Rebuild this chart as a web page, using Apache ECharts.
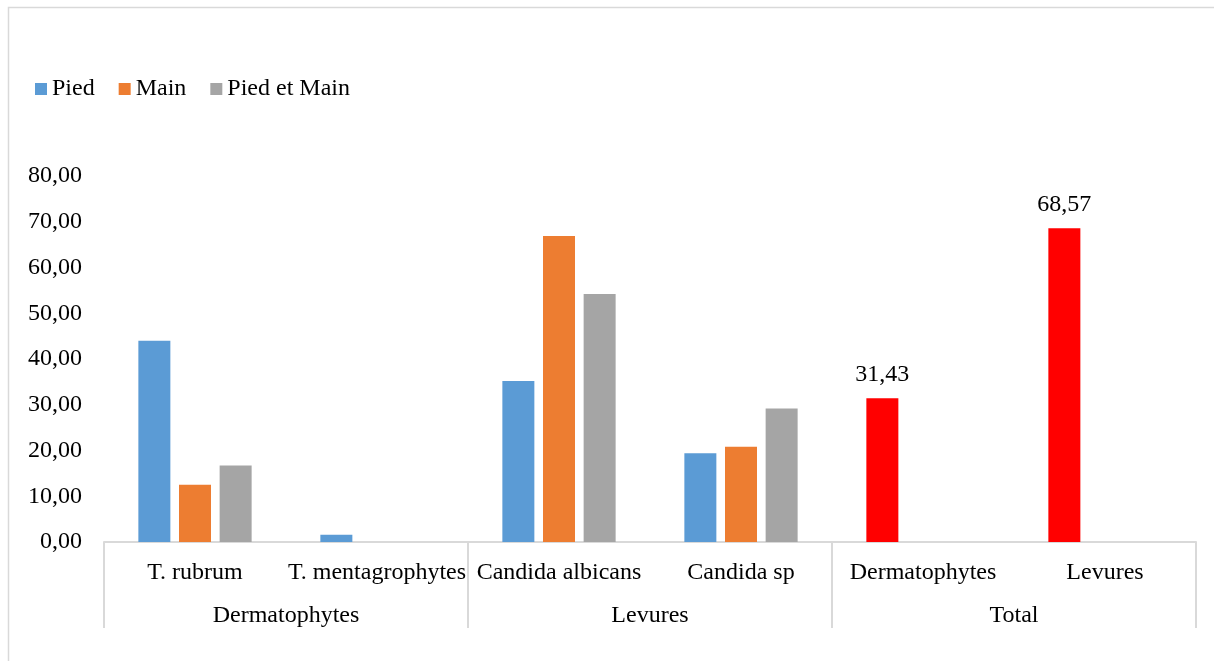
<!DOCTYPE html>
<html><head><meta charset="utf-8">
<script src="https://cdn.jsdelivr.net/npm/echarts@6/dist/echarts.min.js"></script>
<style>html,body{margin:0;padding:0;background:#fff}#c{width:1214px;height:661px}</style>
</head><body><div id="c"></div>
<script>
const categories = ['T. rubrum', 'T. mentagrophytes', 'Candida albicans', 'Candida sp', 'Dermatophytes', 'Levures'];
const groups = ['Dermatophytes', 'Levures', 'Total'];
const pied = [44.0, 1.6, 35.2, 19.4, 31.43, 68.57];
const main = [12.5, null, 66.9, 20.8, null, null];
const piedEtMain = [16.7, null, 54.2, 29.2, null, null];
const totalIdx = [4, 5];
const yTicks = {min: 0, max: 80, interval: 10};

const FONT = 'Liberation Serif';
const FS = 24;
const chart = echarts.init(document.getElementById('c'));
const piedData = pied.map((v, i) => totalIdx.includes(i)
  ? {value: v, itemStyle: {color: '#ff0000'}, label: {show: true}}
  : v);
chart.setOption({
  animation: false,
  textStyle: {fontFamily: FONT},
  graphic: [{type: 'rect', shape: {x: 8.5, y: 7.5, width: 1230, height: 700},
    style: {fill: 'none', stroke: '#d9d9d9', lineWidth: 1.5}, silent: true}],
  legend: {left: 30, top: 72, itemWidth: 12, itemHeight: 12, itemGap: 24,
    icon: 'rect', textStyle: {fontFamily: FONT, fontSize: FS, color: '#000'},
    data: ['Pied', 'Main', 'Pied et Main']},
  grid: {left: 104, right: 18, top: 176, bottom: 119},
  xAxis: [{
    type: 'category', data: categories, position: 'bottom',
    axisLine: {lineStyle: {color: '#d9d9d9', width: 2}},
    axisTick: {show: false},
    axisLabel: {interval: 0, fontFamily: FONT, fontSize: FS, color: '#000', margin: 19}
  }, {
    type: 'category', data: groups, position: 'bottom',
    axisLine: {show: false},
    axisTick: {show: true, interval: 0, length: 86, inside: false, lineStyle: {color: '#d9d9d9', width: 2}},
    axisLabel: {interval: 0, fontFamily: FONT, fontSize: FS, color: '#000', margin: 62}
  }],
  yAxis: {
    type: 'value', min: yTicks.min, max: yTicks.max, interval: yTicks.interval,
    axisLine: {show: false}, axisTick: {show: false}, splitLine: {show: false},
    axisLabel: {fontFamily: FONT, fontSize: FS, color: '#000', margin: 22,
      formatter: v => v.toFixed(2).replace('.', ',')}
  },
  series: [
    {name: 'Pied', type: 'bar', data: piedData, barWidth: 32, barGap: '27%',
     itemStyle: {color: '#5b9bd5'},
     label: {show: false, position: 'top', distance: 12, fontFamily: FONT, fontSize: FS, color: '#000',
       formatter: p => p.value.toFixed(2).replace('.', ',')}},
    {name: 'Main', type: 'bar', data: main, barWidth: 32, barGap: '27%', itemStyle: {color: '#ed7d31'}},
    {name: 'Pied et Main', type: 'bar', data: piedEtMain, barWidth: 32, barGap: '27%', itemStyle: {color: '#a5a5a5'}}
  ]
});
</script></body></html>
